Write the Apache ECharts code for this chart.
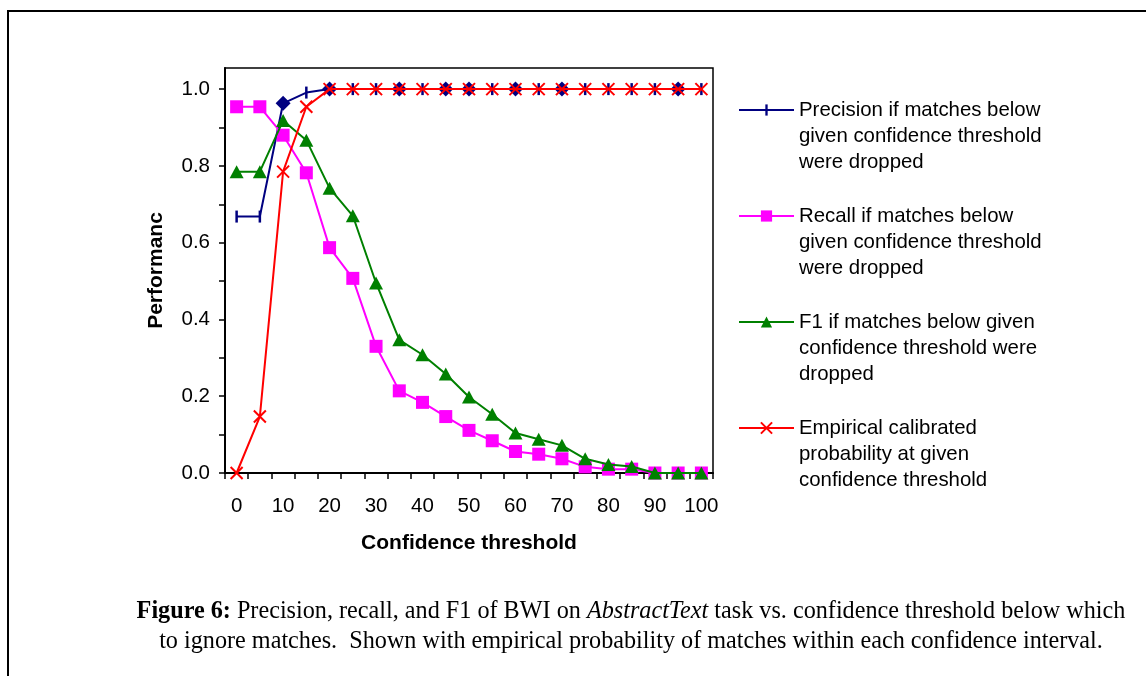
<!DOCTYPE html>
<html>
<head>
<meta charset="utf-8">
<script src="https://cdn.jsdelivr.net/npm/echarts@6/dist/echarts.min.js"></script>
<style>
html,body{margin:0;padding:0;background:#fff;}
#c{width:1146px;height:676px;}
</style>
</head>
<body>
<div id="c"></div>
<script>
// ---- data ----
const thresholds = ['0','5','10','15','20','25','30','35','40','45','50','55','60','65','70','75','80','85','90','95','100'];
const precision = [0.668,0.668,0.963,0.991,1,1,1,1,1,1,1,1,1,1,1,1,1,1,1,1,1];
const recall    = [0.954,0.954,0.880,0.782,0.587,0.507,0.330,0.214,0.184,0.147,0.111,0.084,0.056,0.049,0.037,0.016,0.010,0.010,0,0,0];
const f1        = [0.785,0.785,0.918,0.867,0.742,0.670,0.495,0.347,0.308,0.258,0.198,0.153,0.104,0.088,0.072,0.037,0.022,0.017,0,0,0];
const empirical = [0,0.147,0.785,0.954,1,1,1,1,1,1,1,1,1,1,1,1,1,1,1,1,1];
const precisionDiamondAt = ['10','20','35','45','50','60','70','95'];
const yTickLabels = ['0.0','0.2','0.4','0.6','0.8','1.0'];
const seriesNames = [
  'Precision if matches below\ngiven confidence threshold\nwere dropped',
  'Recall if matches below\ngiven confidence threshold\nwere dropped',
  'F1 if matches below given\nconfidence threshold were\ndropped',
  'Empirical calibrated\nprobability at given\nconfidence threshold'
];
const xAxisTitle = 'Confidence threshold';
const yAxisTitle = 'Performanc';
const captionLine1 = ['Figure 6:', ' Precision, recall, and F1 of BWI on ', 'AbstractText', ' task vs. confidence threshold below which'];
const captionLine2 = 'to ignore matches.  Shown with empirical probability of matches within each confidence interval.';

// ---- chart ----
const SANS = '"Liberation Sans", Arial, sans-serif';
const SERIF = '"Liberation Serif", "Times New Roman", serif';
const chart = echarts.init(document.getElementById('c'), null, {renderer:'canvas'});

const precisionData = precision.map((v, i) =>
  precisionDiamondAt.indexOf(thresholds[i]) >= 0
    ? {value: v, symbol: 'diamond', symbolSize: 15}
    : v);

const option = {
  animation: false,
  backgroundColor: '#fff',
  grid: {left: 225, right: 433, top: 68, bottom: 203, show: true, borderColor: '#000', borderWidth: 1.5, backgroundColor: 'transparent'},
  title: {
    left: 631, top: 597, padding: 0, textAlign: 'center',
    text: '{b|' + captionLine1[0] + '}' + captionLine1[1] + '{i|' + captionLine1[2] + '}' + captionLine1[3] + '\n' + captionLine2,
    textStyle: {
      fontFamily: SERIF, fontSize: 24.2, lineHeight: 30, fontWeight: 'normal', color: '#000',
      rich: {
        b: {fontFamily: SERIF, fontSize: 24.2, lineHeight: 30, fontWeight: 'bold', color: '#000'},
        i: {fontFamily: SERIF, fontSize: 24.2, lineHeight: 30, fontStyle: 'italic', color: '#000'}
      }
    }
  },
  legend: {
    orient: 'vertical', left: 738, top: 45, padding: 0, itemGap: -24,
    itemWidth: 55, itemHeight: 14, selectedMode: false,
    data: seriesNames,
    formatter: function (name) { return '\n\n' + name; },
    textStyle: {fontFamily: SANS, fontSize: 20.4, lineHeight: 26, color: '#000'}
  },
  xAxis: {
    type: 'category', data: thresholds, boundaryGap: true,
    name: xAxisTitle, nameLocation: 'middle', nameGap: 60,
    nameTextStyle: {fontFamily: SANS, fontSize: 21, fontWeight: 'bold', color: '#000'},
    axisLine: {show: true, lineStyle: {color: '#000', width: 2}},
    axisTick: {show: true, interval: 0, length: 6, lineStyle: {color: '#000', width: 1.5}},
    axisLabel: {interval: 1, fontFamily: SANS, fontSize: 20.5, color: '#000', margin: 23},
    splitLine: {show: false}
  },
  yAxis: {
    type: 'value', min: 0, max: 1.055, interval: 0.1,
    name: yAxisTitle, nameLocation: 'middle', nameGap: 58, nameRotate: 90,
    nameTextStyle: {fontFamily: SANS, fontSize: 21, fontWeight: 'bold', color: '#000'},
    axisLine: {show: true, lineStyle: {color: '#000', width: 2}},
    axisTick: {show: true, length: 6, lineStyle: {color: '#000', width: 1.5}},
    axisLabel: {
      fontFamily: SANS, fontSize: 20.5, color: '#000', margin: 15, showMaxLabel: false,
      formatter: function (v) {
        const k = Math.round(v * 10);
        if (Math.abs(v * 10 - k) > 1e-6 || k % 2 !== 0) return '';
        return yTickLabels[k / 2] || '';
      }
    },
    splitLine: {show: false}
  },
  series: [
    {
      name: seriesNames[0], type: 'line', data: precisionData,
      symbol: 'path://M0,6M12,6M4.75,0L7.25,0L7.25,12L4.75,12Z', symbolSize: 12,
      lineStyle: {color: '#000080', width: 2},
      itemStyle: {color: '#000080', borderColor: '#000080', borderWidth: 0},
      emphasis: {disabled: true}, silent: true, z: 2
    },
    {
      name: seriesNames[1], type: 'line', data: recall,
      symbol: 'rect', symbolSize: 13,
      lineStyle: {color: '#ff00ff', width: 2},
      itemStyle: {color: '#ff00ff', borderColor: '#ff00ff', borderWidth: 0},
      emphasis: {disabled: true}, silent: true, z: 3
    },
    {
      name: seriesNames[2], type: 'line', data: f1,
      symbol: 'triangle', symbolSize: [14, 13],
      lineStyle: {color: '#008000', width: 2},
      itemStyle: {color: '#008000', borderColor: '#008000', borderWidth: 0},
      emphasis: {disabled: true}, silent: true, z: 4
    },
    {
      name: seriesNames[3], type: 'line', data: empirical,
      symbol: 'path://M0,0L12,12M12,0L0,12', symbolSize: 12,
      lineStyle: {color: '#ff0000', width: 2},
      itemStyle: {color: '#ff0000', borderColor: '#ff0000', borderWidth: 2},
      emphasis: {disabled: true}, silent: true, z: 5
    }
  ],
  graphic: [
    {type: 'line', silent: true, shape: {x1: 7, y1: 11, x2: 1146, y2: 11}, style: {stroke: '#000', lineWidth: 2}},
    {type: 'line', silent: true, shape: {x1: 8, y1: 10, x2: 8, y2: 676}, style: {stroke: '#000', lineWidth: 2}}
  ]
};
chart.setOption(option);
</script>
</body>
</html>
